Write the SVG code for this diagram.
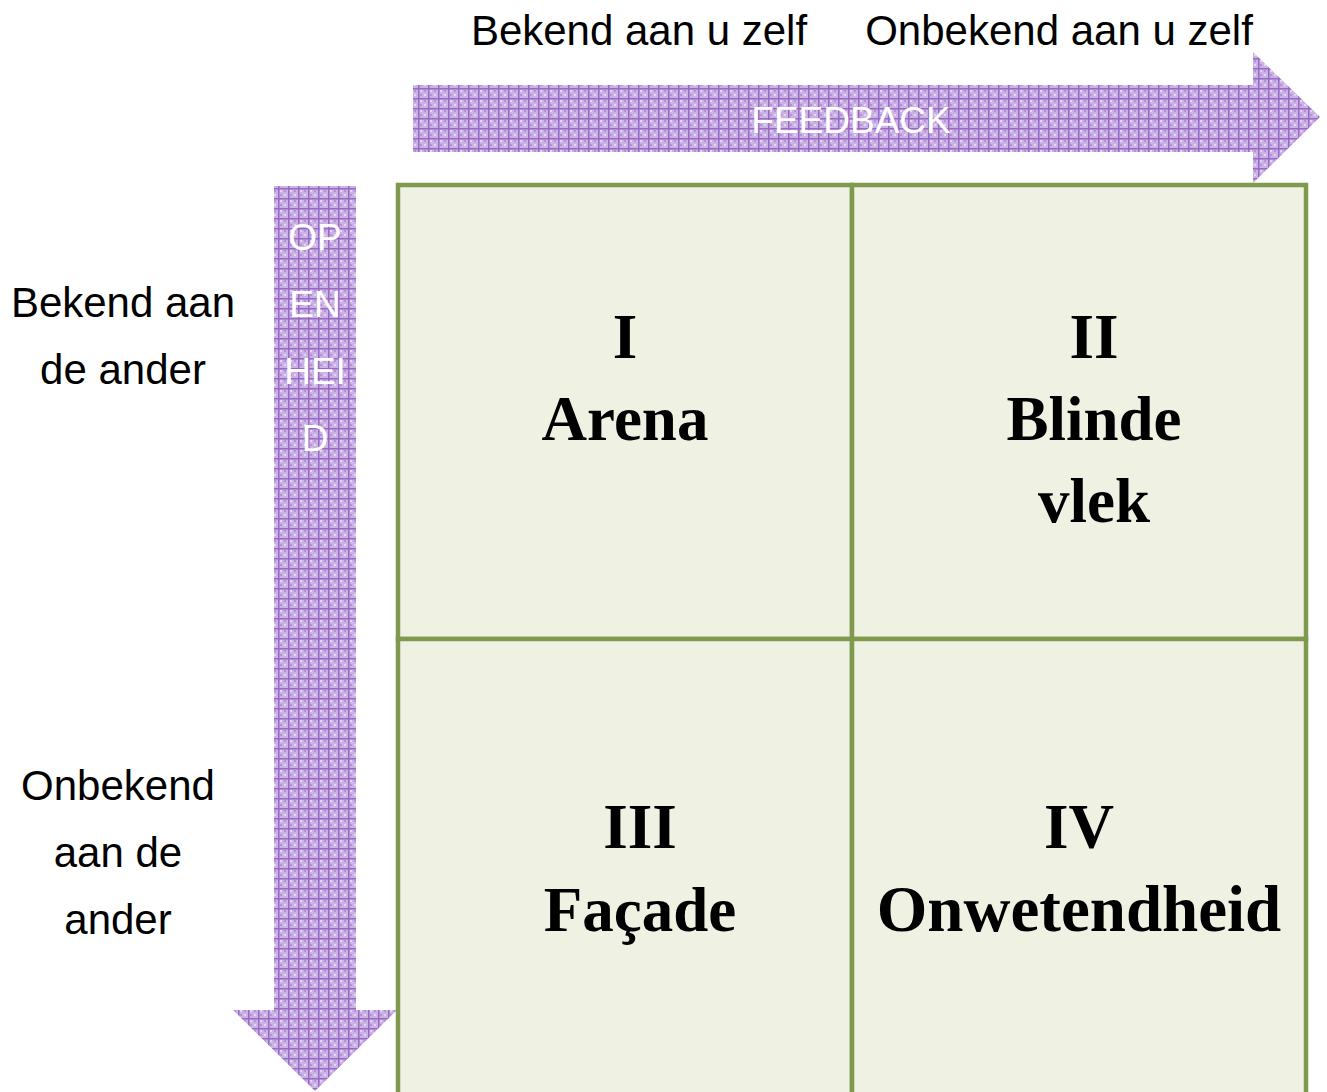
<svg xmlns="http://www.w3.org/2000/svg" width="1327" height="1092" viewBox="0 0 1327 1092">
<defs>
<pattern id="weave" patternUnits="userSpaceOnUse" width="10" height="10">
<rect width="10" height="10" fill="#cbb2e4"/>
<rect x="0" y="0" width="2" height="2" fill="#e2d5f1"/>
<rect x="4" y="4" width="2" height="2" fill="#e2d5f1"/>
<rect x="4" y="0" width="2" height="2" fill="#b592d8"/>
<rect x="0" y="4" width="2" height="2" fill="#b592d8"/>
<rect x="0" y="8" width="10" height="1.5" fill="#9868c5"/>
<rect x="8" y="0" width="1.5" height="10" fill="#9868c5"/>
</pattern>
<style>
.lbl{font-family:"Liberation Sans",Arial,sans-serif;font-size:42px;fill:#000;text-anchor:middle}
.arr{font-family:"Liberation Sans",Arial,sans-serif;font-size:37px;fill:#fff;text-anchor:middle}
.q{font-family:"Liberation Serif","Times New Roman",serif;font-weight:bold;font-size:63px;fill:#000;text-anchor:middle}
.cell{fill:#eff2e3;stroke:#7f9a4f;stroke-width:4.5}
</style>
</defs>
<g id="feedback-arrow">
<polygon points="413,85 1253,85 1253,52 1320,117 1253,183 1253,152 413,152" fill="url(#weave)"/>
<text class="arr" x="851" y="133">FEEDBACK</text>
</g>
<g id="openheid-arrow">
<polygon points="274,186 356,186 356,1010 397,1010 315,1091 233,1010 274,1010" fill="url(#weave)"/>
<text class="arr" x="315" y="250">OP</text>
<text class="arr" x="315" y="317">EN</text>
<text class="arr" x="315" y="384">HEI</text>
<text class="arr" x="315" y="451">D</text>
</g>
<g id="labels">
<text class="lbl" x="639" y="45">Bekend aan u zelf</text>
<text class="lbl" x="1059" y="45">Onbekend aan u zelf</text>
<text class="lbl" x="123" y="317">Bekend aan</text>
<text class="lbl" x="123" y="384">de ander</text>
<text class="lbl" x="118" y="800">Onbekend</text>
<text class="lbl" x="118" y="867">aan de</text>
<text class="lbl" x="118" y="934">ander</text>
</g>
<g id="cell-arena">
<rect class="cell" x="398" y="185" width="454" height="454"/>
<text class="q" x="625" y="358">I</text>
<text class="q" x="625" y="440">Arena</text>
</g>
<g id="cell-blinde-vlek">
<rect class="cell" x="852" y="185" width="454" height="454"/>
<text class="q" x="1094" y="358">II</text>
<text class="q" x="1094" y="440">Blinde</text>
<text class="q" x="1094" y="522">vlek</text>
</g>
<g id="cell-facade">
<rect class="cell" x="398" y="639" width="454" height="460"/>
<text class="q" x="640" y="848">III</text>
<text class="q" x="640" y="931">Façade</text>
</g>
<g id="cell-onwetendheid">
<rect class="cell" x="852" y="639" width="454" height="460"/>
<text class="q" x="1079" y="848">IV</text>
<text class="q" x="1079" y="931" style="font-size:65px">Onwetendheid</text>
</g>
</svg>
